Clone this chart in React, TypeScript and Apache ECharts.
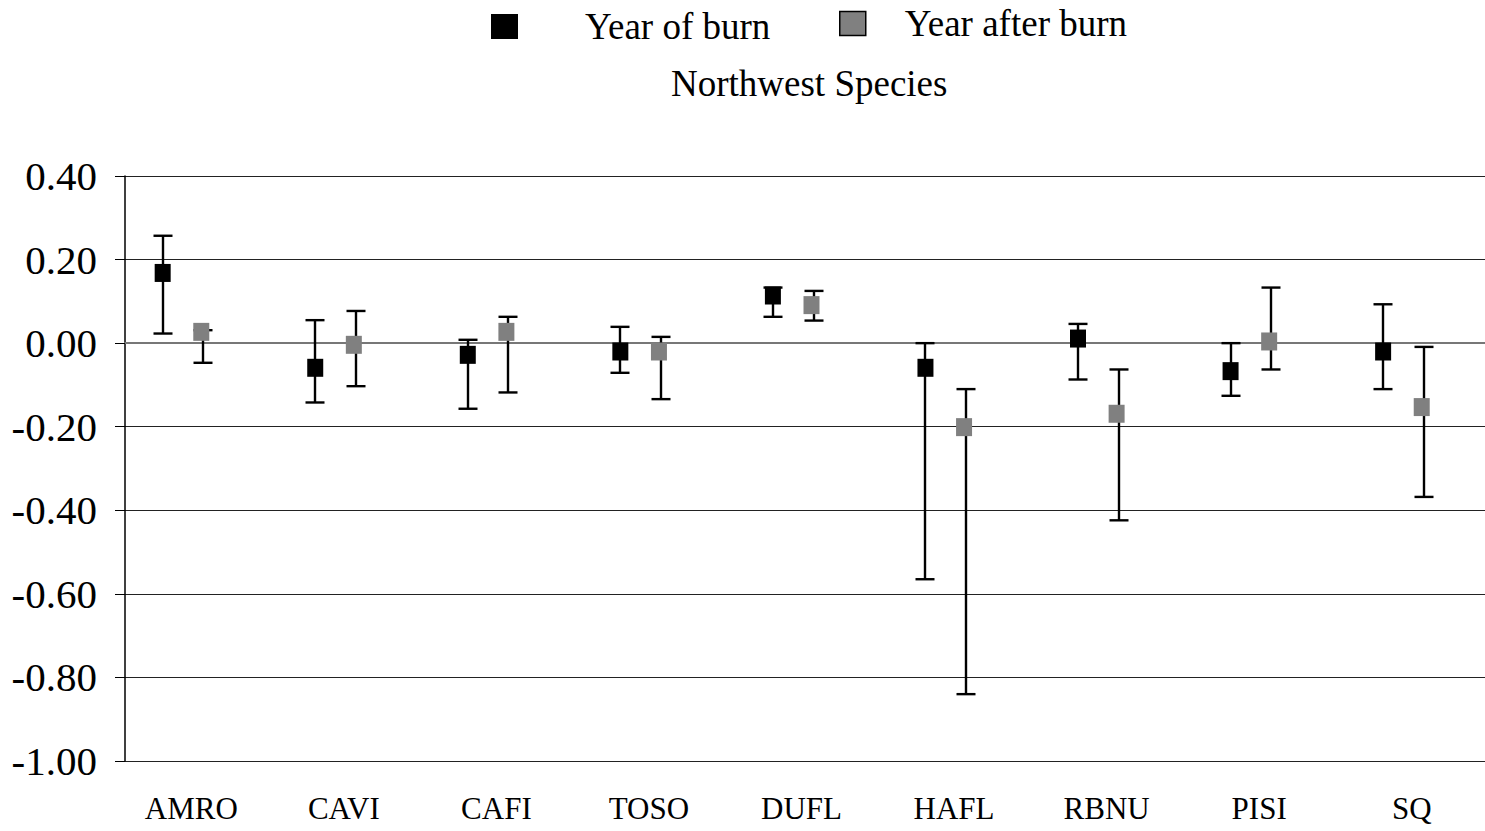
import React, { useEffect, useRef } from "react";
import * as echarts from "echarts";

const categories = ["AMRO", "CAVI", "CAFI", "TOSO", "DUFL", "HAFL", "RBNU", "PISI", "SQ"];

const burnMean = [0.168, -0.059, -0.028, -0.02, 0.114, -0.059, 0.011, -0.067, -0.02];
const burnLow = [0.023, -0.142, -0.157, -0.071, 0.063, -0.565, -0.087, -0.126, -0.11];
const burnHigh = [0.257, 0.055, 0.008, 0.039, 0.133, 0.0, 0.046, 0.0, 0.093];

const afterMean = [0.027, -0.004, 0.027, -0.02, 0.091, -0.201, -0.169, 0.004, -0.153];
const afterLow = [-0.047, -0.103, -0.118, -0.134, 0.054, -0.84, -0.424, -0.063, -0.368];
const afterHigh = [0.031, 0.077, 0.063, 0.015, 0.125, -0.11, -0.063, 0.133, -0.009];

const yTicks = { min: -1.0, max: 0.4, interval: 0.2 };

const FONT = "'Liberation Serif', 'Times New Roman', serif";
const BLACK_OFFSET = -38.6;
const GRAY_OFFSET = 0;
const GRAY_BAR_OFFSET = 2;

function errorBarRenderer(offset: number) {
  return (params: any, api: any) => {
    const idx = api.value(0);
    const x = Math.round(api.coord([idx, 0])[0] + offset);
    const yl = api.coord([idx, api.value(1)])[1];
    const yh = api.coord([idx, api.value(2)])[1];
    const half = 9.5;
    const style = { stroke: "#000", lineWidth: 2.4, opacity: 1 };
    return {
      type: "group",
      children: [
        { type: "line", shape: { x1: x, y1: yh, x2: x, y2: yl }, style },
        { type: "line", shape: { x1: x - half, y1: yh, x2: x + half, y2: yh }, style },
        { type: "line", shape: { x1: x - half, y1: yl, x2: x + half, y2: yl }, style },
      ],
    };
  };
}

export default function App() {
  const ref = useRef<HTMLDivElement>(null);
  useEffect(() => {
    if (!ref.current) return;
    const chart = echarts.init(ref.current, null, { renderer: "svg" });
    chart.setOption({
      animation: false,
      backgroundColor: "#fff",
      title: {
        text: "Northwest Species",
        left: 666,
        top: 60,
        textStyle: { fontFamily: FONT, fontSize: 37, fontWeight: "normal", color: "#000" },
      },
      legend: [
        {
          data: [{ name: "Year of burn", itemStyle: { color: "#000", borderWidth: 0, opacity: 1 } }],
          left: 486,
          top: 3,
          icon: "rect",
          itemWidth: 27,
          itemHeight: 25,
          selectedMode: false,
          textStyle: { fontFamily: FONT, fontSize: 37, color: "#000", padding: [0, 0, 0, 62] },
        },
        {
          data: [
            {
              name: "Year after burn",
              itemStyle: { color: "#808080", borderColor: "#000", borderWidth: 1.5, opacity: 1 },
            },
          ],
          left: 834,
          top: 0,
          icon: "rect",
          itemWidth: 26,
          itemHeight: 24,
          selectedMode: false,
          textStyle: { fontFamily: FONT, fontSize: 37, color: "#000", padding: [0, 0, 0, 34] },
        },
      ],
      grid: { left: 125, top: 176, width: 1373, height: 585, outerBoundsMode: "none", containLabel: false },
      xAxis: {
        type: "category",
        data: categories,
        boundaryGap: true,
        axisLine: { show: true, lineStyle: { color: "#777", width: 2 } },
        axisTick: { show: false },
        splitLine: { show: false },
        axisLabel: {
          fontFamily: FONT,
          fontSize: 31,
          color: "#000",
          margin: 32,
          padding: [0, 20, 0, 0],
          interval: 0,
        },
      },
      yAxis: {
        type: "value",
        min: yTicks.min,
        max: yTicks.max,
        interval: yTicks.interval,
        axisLine: { show: true, lineStyle: { color: "#000", width: 1.5 } },
        axisTick: { show: true, inside: false, length: 10, lineStyle: { color: "#000", width: 1 } },
        splitLine: { show: true, lineStyle: { color: "#222", width: 1 } },
        axisLabel: {
          fontFamily: FONT,
          fontSize: 41,
          color: "#000",
          margin: 28,
          formatter: (v: number) => v.toFixed(2),
        },
      },
      series: [
        {
          name: "Year of burn bars",
          type: "custom",
          renderItem: errorBarRenderer(BLACK_OFFSET),
          data: categories.map((_, i) => [i, burnLow[i], burnHigh[i]]),
          encode: { x: 0, y: [1, 2] },
          z: 2,
          silent: true,
        },
        {
          name: "Year after burn bars",
          type: "custom",
          renderItem: errorBarRenderer(GRAY_OFFSET + GRAY_BAR_OFFSET),
          data: categories.map((_, i) => [i, afterLow[i], afterHigh[i]]),
          encode: { x: 0, y: [1, 2] },
          z: 2,
          silent: true,
        },
        {
          name: "Year of burn",
          type: "scatter",
          symbol: "rect",
          symbolSize: [16, 18],
          symbolOffset: [BLACK_OFFSET, 0],
          itemStyle: { color: "#000", opacity: 1 },
          data: burnMean,
          z: 5,
        },
        {
          name: "Year after burn",
          type: "scatter",
          symbol: "rect",
          symbolSize: [16, 18],
          symbolOffset: [GRAY_OFFSET, 0],
          itemStyle: { color: "#808080", opacity: 1 },
          data: afterMean,
          z: 5,
        },
      ],
    });
    return () => chart.dispose();
  }, []);
  return (
    <div
      ref={ref}
      style={{ position: "fixed", left: 0, top: 0, width: 1485, height: 831, background: "#fff" }}
    />
  );
}
